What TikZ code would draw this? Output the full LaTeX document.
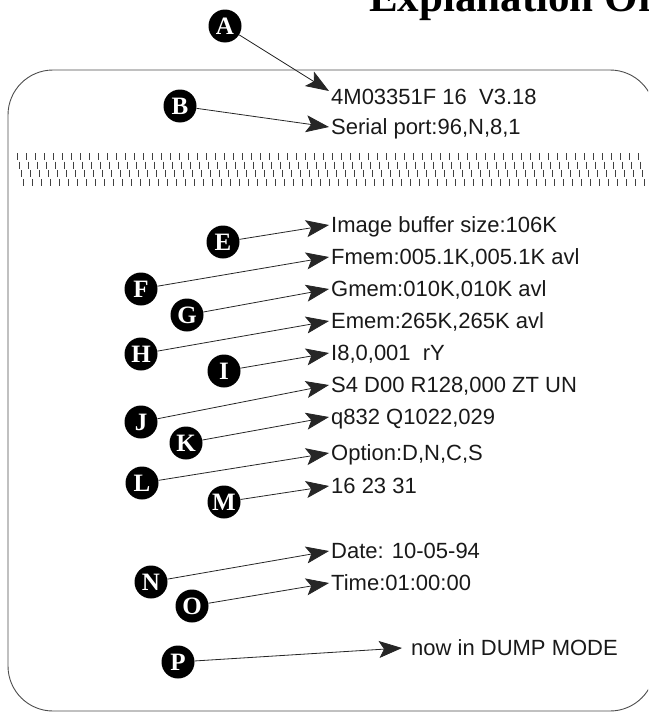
\documentclass[tikz,border=0pt]{standalone}
\usepackage{fontspec}
\setmainfont{Liberation Sans}
\newfontfamily\serifbold{Liberation Serif}
\usetikzlibrary{arrows.meta}
\tikzset{
  letter/.style={circle, fill=black, text=white, minimum size=33pt, inner sep=0pt,
    font=\serifbold\bfseries\fontsize{25}{25}\selectfont},
  line/.style={anchor=west, inner sep=0pt, text height=15.75pt, text depth=0pt,
    font=\fontsize{22}{26}\selectfont, text=black!90},
  arr/.style={line width=0.8pt, draw=black!85, -{Stealth[length=23pt,width=17pt,inset=5pt]}},
  tear/.style={line width=1pt, draw=black!75},
  frame/.style={line width=0.9pt, draw=black!70, rounded corners=45pt}
}
\begin{document}
\begin{tikzpicture}[x=1pt,y=-1pt]
\useasboundingbox (0,0) rectangle (648,712);
\clip (0,0) rectangle (648,712);
% title (cut at top in the reference)
\node[anchor=base west, inner sep=0pt, font=\serifbold\bfseries\fontsize{43}{43}\selectfont]
  (title) at (369,12) {Explanation Of};
% frame
\draw[frame] (8,70) rectangle (655,711);
% torn line
\foreach \i in {0,...,69}
  \foreach \r in {0,1,2,3}
    \draw[tear] ({17+9*\i+2.3*\r},{153+8.7*\r}) -- ++(0,7);
% text lines
\node[line] (t1)  at (331,97)  {4M03351F 16 \ V3.18};
\node[line] (t2)  at (331,127) {Serial port:96,N,8,1};
\node[line] (t3)  at (331,225) {Image buffer size:106K};
\node[line] (t4)  at (331,257) {Fmem:005.1K,005.1K avl};
\node[line] (t5)  at (331,289) {Gmem:010K,010K avl};
\node[line] (t6)  at (331,321) {Emem:265K,265K avl};
\node[line] (t7)  at (331,353) {I8,0,001 \ rY};
\node[line] (t8)  at (331,385) {S4 D00 R128,000 ZT UN};
\node[line] (t9)  at (331,417) {q832 Q1022,029};
\node[line] (t10) at (331,453) {Option:D,N,C,S};
\node[line] (t11) at (331,486) {16 23 31};
\node[line] (t12) at (331,551) {Date: 10-05-94};
\node[line] (t13) at (331,583) {Time:01:00:00};
\node[line] (t14) at (411,648) {now in DUMP MODE};
% letters
\node[letter] (A) at (225,26)  {A};
\node[letter] (B) at (180,106) {B};
\node[letter] (E) at (223,242) {E};
\node[letter] (F) at (141,289) {F};
\node[letter] (G) at (187,315) {G};
\node[letter] (H) at (141,354) {H};
\node[letter] (I) at (224,371) {I};
\node[letter] (J) at (141,422) {J};
\node[letter] (K) at (186,443) {K};
\node[letter] (L) at (142,483) {L};
\node[letter] (M) at (224,502) {M};
\node[letter] (N) at (151,582) {N};
\node[letter] (O) at (192,606) {O};
\node[letter] (P) at (178,662) {P};
% connectors
\draw[arr] (A) -- ([xshift=-2pt,yshift=6pt]t1.west);
\draw[arr] (B) -- ([xshift=-2pt]t2.west);
\draw[arr] (E) -- ([xshift=-2pt]t3.west);
\draw[arr] (F) -- ([xshift=-2pt]t4.west);
\draw[arr] (G) -- ([xshift=-2pt]t5.west);
\draw[arr] (H) -- ([xshift=-2pt]t6.west);
\draw[arr] (I) -- ([xshift=-2pt]t7.west);
\draw[arr] (J) -- ([xshift=-2pt]t8.west);
\draw[arr] (K) -- ([xshift=-2pt]t9.west);
\draw[arr] (L) -- ([xshift=-2pt]t10.west);
\draw[arr] (M) -- ([xshift=-2pt]t11.west);
\draw[arr] (N) -- ([xshift=-2pt]t12.west);
\draw[arr] (O) -- ([xshift=-2pt]t13.west);
\draw[arr] (P) -- ([xshift=-9pt]t14.west);
\end{tikzpicture}
\end{document}
